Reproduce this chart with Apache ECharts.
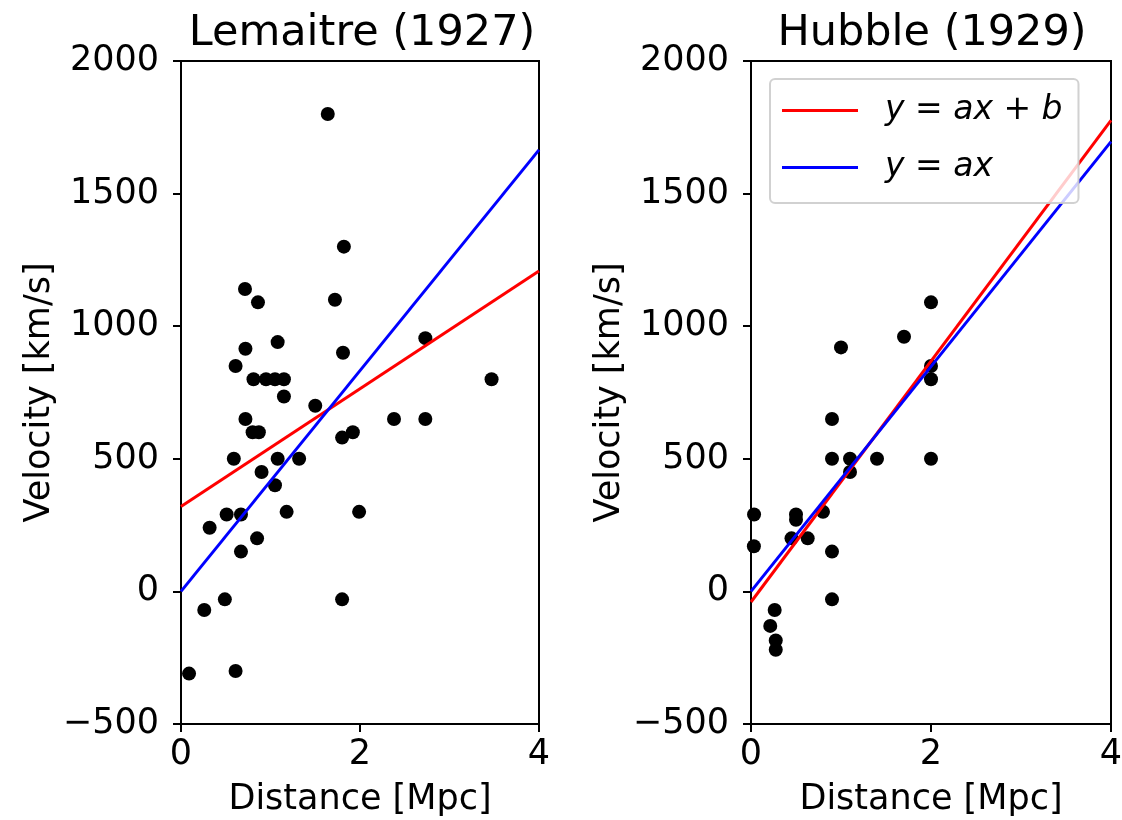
<!DOCTYPE html>
<html><head><meta charset="utf-8">
<script src="https://cdn.jsdelivr.net/npm/echarts@6/dist/echarts.min.js"></script>
<style>html,body{margin:0;padding:0;background:#fff}#c{width:1122px;height:820px}</style>
</head><body><div id="c"></div>
<script>
// Lemaitre (1927) galaxies
const lemaitreDist = [1.64, 1.82, 0.715, 0.86, 1.72, 2.73, 1.08, 0.72, 1.81, 0.61,
  0.81, 0.95, 1.05, 1.15, 3.47, 1.15, 1.50, 0.72, 2.38, 2.73,
  0.80, 0.87, 1.80, 1.92, 0.59, 1.08, 1.32, 0.90, 1.05, 0.51,
  0.67, 1.18, 1.99, 0.32, 0.85, 0.67, 0.49, 1.80, 0.26, 0.09, 0.61];
const lemaitreVel = [1800, 1300, 1140, 1090, 1100, 955, 940, 915, 900, 850,
  800, 800, 800, 800, 800, 735, 700, 650, 650, 650,
  600, 600, 580, 600, 500, 500, 500, 450, 400, 290,
  290, 300, 300, 240, 200, 150, -30, -30, -70, -310, -300];
// Hubble (1929) galaxies
const hubbleDist = [0.032, 0.034, 0.214, 0.263, 0.275, 0.275, 0.45, 0.5, 0.5, 0.63, 0.8, 0.9,
  0.9, 0.9, 0.9, 1.0, 1.1, 1.1, 1.4, 1.7, 2.0, 2.0, 2.0, 2.0];
const hubbleVel = [170, 290, -130, -70, -185, -220, 200, 290, 270, 200, 300, -30,
  650, 150, 500, 920, 450, 500, 500, 960, 500, 850, 800, 1090];
// fitted lines, endpoints at distance 0 and 4
const lineX = [0, 4];
const lemaitreFitAB = [320, 1208];
const lemaitreFitA = [0, 1665];
const hubbleFitAB = [-40, 1776];
const hubbleFitA = [0, 1696];
// axes
const titles = ['Lemaitre (1927)', 'Hubble (1929)'];
const xTicks = {min: 0, max: 4, interval: 2};
const yTicks = {min: -500, max: 2000, interval: 500};
const legendNames = ['y = ax + b', 'y = ax'];

const FONT = 'DejaVu Sans';
const pairs = (xs, ys) => xs.map((x, i) => [x, ys[i]]);

function xAxis(gi) {
  return {
    type: 'value', gridIndex: gi, min: xTicks.min, max: xTicks.max, interval: xTicks.interval,
    name: 'Distance [Mpc]', nameLocation: 'middle', nameGap: 58,
    nameTextStyle: {fontFamily: FONT, fontSize: 35, color: '#000'},
    axisLine: {show: false, onZero: false}, splitLine: {show: false},
    axisTick: {show: true, inside: false, length: 8, lineStyle: {color: '#000', width: 2}},
    axisLabel: {fontFamily: FONT, fontSize: 35, color: '#000', margin: 13}
  };
}
function yAxis(gi) {
  return {
    type: 'value', gridIndex: gi, min: yTicks.min, max: yTicks.max, interval: yTicks.interval,
    name: 'Velocity [km/s]', nameLocation: 'middle', nameGap: 124,
    nameTextStyle: {fontFamily: FONT, fontSize: 35, color: '#000'},
    axisLine: {show: false, onZero: false}, splitLine: {show: false},
    axisTick: {show: true, inside: false, length: 8, lineStyle: {color: '#000', width: 2}},
    axisLabel: {fontFamily: FONT, fontSize: 35, color: '#000', margin: 22,
      formatter: v => String(v).replace('-', '\u2212')}
  };
}
function scatter(gi, xs, ys) {
  return {type: 'scatter', xAxisIndex: gi, yAxisIndex: gi, data: pairs(xs, ys),
    symbolSize: 14, itemStyle: {color: '#000', opacity: 1}, z: 2, silent: true};
}
function line(gi, name, ys, color) {
  return {type: 'line', name: name, xAxisIndex: gi, yAxisIndex: gi, data: pairs(lineX, ys),
    symbol: 'none', lineStyle: {color: color, width: 3}, itemStyle: {color: color}, z: 3, silent: true};
}

const chart = echarts.init(document.getElementById('c'), null, {renderer: 'canvas'});
chart.setOption({
  animation: false,
  backgroundColor: '#fff',
  title: [
    {text: titles[0], left: 357, top: 7, textAlign: 'center',
      textStyle: {fontFamily: FONT, fontSize: 43, fontWeight: 'normal', color: '#000'}},
    {text: titles[1], left: 927, top: 7, textAlign: 'center',
      textStyle: {fontFamily: FONT, fontSize: 43, fontWeight: 'normal', color: '#000'}}
  ],
  grid: [
    {left: 181, top: 61, width: 358, height: 663, show: true, borderColor: '#000', borderWidth: 2,
      backgroundColor: 'transparent', containLabel: false, outerBoundsMode: 'none'},
    {left: 751, top: 61, width: 360, height: 663, show: true, borderColor: '#000', borderWidth: 2,
      backgroundColor: 'transparent', containLabel: false, outerBoundsMode: 'none'}
  ],
  xAxis: [xAxis(0), xAxis(1)],
  yAxis: [yAxis(0), yAxis(1)],
  legend: {
    orient: 'vertical', left: 770, top: 79,
    data: [{name: legendNames[0], icon: 'rect'}, {name: legendNames[1], icon: 'rect'}],
    itemWidth: 76, itemHeight: 3, itemGap: 24,
    padding: [15, 16, 19, 12],
    backgroundColor: 'rgba(255,255,255,0.8)',
    borderColor: 'rgba(204,204,204,0.9)', borderWidth: 2, borderRadius: 5,
    textStyle: {fontFamily: FONT, fontSize: 33, fontStyle: 'italic', color: '#000', padding: [0, 0, 0, 22]},
    selectedMode: false, z: 10
  },
  series: [
    scatter(0, lemaitreDist, lemaitreVel),
    line(0, legendNames[0], lemaitreFitAB, '#ff0000'),
    line(0, legendNames[1], lemaitreFitA, '#0000ff'),
    scatter(1, hubbleDist, hubbleVel),
    line(1, legendNames[0], hubbleFitAB, '#ff0000'),
    line(1, legendNames[1], hubbleFitA, '#0000ff')
  ]
});
</script></body></html>
